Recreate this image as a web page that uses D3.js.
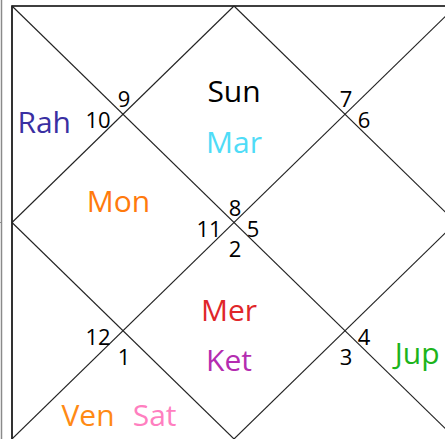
<!DOCTYPE html>
<html><head><meta charset="utf-8">
<script src="https://cdn.jsdelivr.net/npm/d3@7"></script>
<style>html,body{margin:0;padding:0;background:#fff;overflow:hidden}svg{display:block}</style>
</head><body>
<script>
// Sign number shown in each house (house 1 = top diamond, counter-clockwise)
const houses = [1,2,3,4,5,6,7,8,9,10,11,12];
const signs = [8,9,10,11,12,1,2,3,4,5,6,7];
// Planets and the house that holds them
const planets = ["Sun","Mar","Rah","Mon","Ven","Sat","Mer","Ket","Jup"];
const planetHouse = [1,1,3,4,6,6,7,7,9];
const planetColors = ["#000000","#4fdcf7","#3a2fa2","#ff7a0c","#ff8a14","#ff7fc0","#e0262a","#b42cb0","#1cb41c"];

const W = 445, H = 439;
const svg = d3.select("body").append("svg").attr("width", W).attr("height", H);
const x = d3.scaleLinear().domain([0,4]).range([12,456]);
const y = d3.scaleLinear().domain([0,4]).range([6,439]);

// outer frame grey line
svg.append("line").attr("x1",1.5).attr("x2",1.5).attr("y1",0).attr("y2",H)
  .attr("stroke","#8a8a8a").attr("stroke-width",1.5);
svg.append("line").attr("x1",0).attr("x2",2).attr("y1",y(2)).attr("y2",y(2))
  .attr("stroke","#8a8a8a").attr("stroke-width",1);

// square border (bottom edge lies outside the frame)
svg.append("path")
  .attr("d", d3.line()([[x(0),y(4)+2],[x(0),y(0)],[x(4),y(0)],[x(4),y(4)+2]]))
  .attr("fill","none").attr("stroke","#000").attr("stroke-width",1.6);

// diagonals and diamond (in grid units)
const segs = [
  [[0,0],[4,4]],[[4,0],[0,4]],
  [[2,0],[0,2]],[[0,2],[2,4]],[[2,4],[4,2]],[[4,2],[2,0]]
];
svg.selectAll("line.g").data(segs).enter().append("line").attr("class","g")
  .attr("x1",d=>x(d[0][0])).attr("y1",d=>y(d[0][1]))
  .attr("x2",d=>x(d[1][0])).attr("y2",d=>y(d[1][1]))
  .attr("stroke","#222").attr("stroke-width",1.1);

// house-number anchor: intersection point and side
const numAnchor = {
  1:[[2,2],"top"], 2:[[1,1],"top"], 3:[[1,1],"left"], 4:[[2,2],"left"],
  5:[[1,3],"left"], 6:[[1,3],"bottom"], 7:[[2,2],"bottom"], 8:[[3,3],"bottom"],
  9:[[3,3],"right"], 10:[[2,2],"right"], 11:[[3,1],"right"], 12:[[3,1],"top"]
};
const sideOff = {top:[1,-7], left:[-25,14], right:[19,14], bottom:[1,34]};
svg.selectAll("text.num").data(houses).enter().append("text").attr("class","num")
  .attr("x",h=>x(numAnchor[h][0][0])+sideOff[numAnchor[h][1]][0])
  .attr("y",h=>y(numAnchor[h][0][1])+sideOff[numAnchor[h][1]][1])
  .attr("text-anchor","middle")
  .attr("font-family","'Open Sans', sans-serif").attr("font-size",22)
  .attr("fill","#000")
  .text((h,i)=>signs[i]);

// planet slot layout per house (grid units: centre x, first baseline, step dx, step dy)
const slotLayout = {
  1:[2.0,0.89,0,0.47], 3:[0.29,1.175,0,0.47], 4:[0.96,1.905,0,0.47],
  6:[0.685,3.88,0.6,0], 7:[1.955,2.91,0,0.462], 9:[3.65,3.305,0,0.47]
};
const counter = {};
const pData = planets.map((p,i)=>{
  const h = planetHouse[i];
  const k = counter[h] = (counter[h]===undefined ? 0 : counter[h]+1);
  const L = slotLayout[h];
  return {name:p, color:planetColors[i], ux:L[0]+k*L[2], uy:L[1]+k*L[3]};
});
svg.selectAll("text.pl").data(pData).enter().append("text").attr("class","pl")
  .attr("x",d=>x(d.ux)).attr("y",d=>y(d.uy))
  .attr("text-anchor","middle")
  .attr("font-family","'Open Sans', sans-serif").attr("font-size",30)
  .attr("fill",d=>d.color)
  .text(d=>d.name);
</script>
</body></html>
